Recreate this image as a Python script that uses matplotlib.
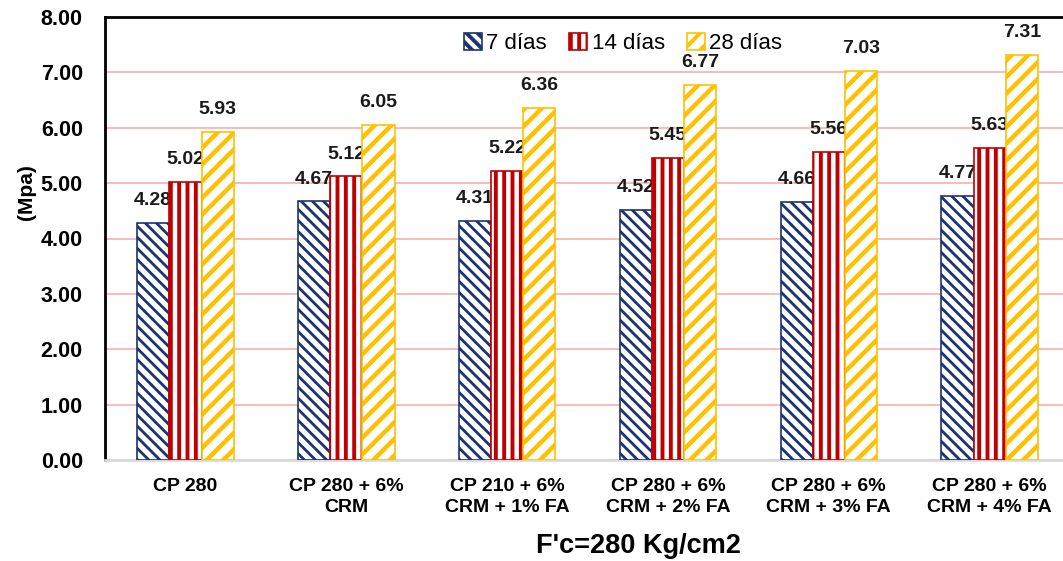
import numpy as np
import matplotlib
matplotlib.use("Agg")
import matplotlib.pyplot as plt

plt.rcParams["font.family"] = ["Liberation Sans", "DejaVu Sans"]

# Data
categories = ["CP 280", "CP 280 + 6%\nCRM", "CP 210 + 6%\nCRM + 1% FA",
              "CP 280 + 6%\nCRM + 2% FA", "CP 280 + 6%\nCRM + 3% FA",
              "CP 280 + 6%\nCRM + 4% FA"]
series_names = ["7 días", "14 días", "28 días"]
dias_7 = [4.28, 4.67, 4.31, 4.52, 4.66, 4.77]
dias_14 = [5.02, 5.12, 5.22, 5.45, 5.56, 5.63]
dias_28 = [5.93, 6.05, 6.36, 6.77, 7.03, 7.31]
yticks = [0, 1, 2, 3, 4, 5, 6, 7, 8]

colors = ["#1B3470", "#C00000", "#FFC000"]
hatches = ["\\\\\\", "||", "//"]
hatch_lw = [2.0, 2.8, 3.2]

plt.rcParams["hatch.linewidth"] = 2.8

fig = plt.figure(figsize=(10.63, 5.61), dpi=100)
ax = fig.add_axes([105 / 1063, 1 - 460 / 561, (1070 - 105) / 1063, (460 - 17) / 561])

x = np.arange(len(categories))
w = 0.2
for k, (vals, name) in enumerate(zip([dias_7, dias_14, dias_28], series_names)):
    bars = ax.bar(x + (k - 1) * w, vals, w, facecolor="white", edgecolor=colors[k],
                  hatch=hatches[k], linewidth=1.2, label=name, zorder=3)
    # per-bar hatch width (matplotlib >= 3.10)
    for b in bars:
        if hasattr(b, "set_hatch_linewidth"):
            b.set_hatch_linewidth(hatch_lw[k])
    ax.bar_label(bars, fmt="%.2f", padding=10, fontsize=14, fontweight="bold",
                 color="#1a1a1a")

ax.set_xlim(-0.5, len(categories) - 0.5)
ax.set_ylim(0, 8)
ax.set_yticks(yticks)
ax.set_yticklabels(["%.2f" % v for v in yticks], fontsize=15.5, fontweight="bold")
ax.set_xticks(x)
ax.set_xticklabels(categories, fontsize=14, fontweight="bold", linespacing=1.3)
ax.tick_params(axis="y", length=0, pad=16)
ax.tick_params(axis="x", length=0, pad=13)

ax.grid(axis="y", color="#F2A9A9", linewidth=1.1, zorder=0)
ax.set_axisbelow(True)
for s in ["top", "left"]:
    ax.spines[s].set_color("black")
    ax.spines[s].set_linewidth(2)
ax.spines["right"].set_visible(False)
ax.spines["bottom"].set_color("#D9D9D9")
ax.spines["bottom"].set_linewidth(2)

ax.set_ylabel("(Mpa)", fontsize=15, fontweight="bold")
ax.yaxis.set_label_coords(-0.072, 0.605)
fig.text(638 / 1063, 1 - 546 / 561, "F'c=280 Kg/cm2", fontsize=19.5, fontweight="bold",
         ha="center", va="center")

leg = ax.legend(loc="upper center", bbox_to_anchor=(0.537, 0.995), ncol=3, frameon=False,
                fontsize=16, handlelength=0.8, handleheight=0.8, handletextpad=0.2,
                columnspacing=1.0, borderaxespad=0.2)

fig.savefig("out.png", dpi=100)
